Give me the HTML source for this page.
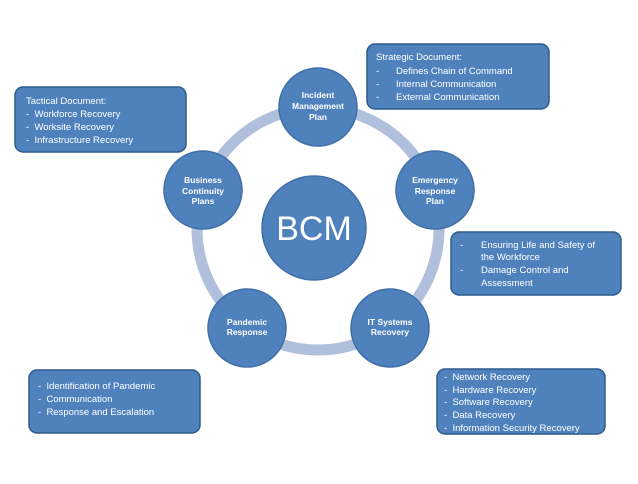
<!DOCTYPE html>
<html><head><meta charset="utf-8"><style>
html,body{margin:0;padding:0;background:#fff;}
svg text{font-family:"Liberation Sans",sans-serif;fill:#fff;}
</style></head><body>
<svg width="638" height="479" viewBox="0 0 638 479" xmlns="http://www.w3.org/2000/svg">
<circle cx="318" cy="229" r="121" fill="none" stroke="#b0c0dc" stroke-width="11"/>
<g fill="#4f81bd" stroke="#3f6fa8" stroke-width="1.5">
<circle cx="314" cy="228" r="52"/>
<circle cx="318" cy="107" r="39"/>
<circle cx="435" cy="190" r="39"/>
<circle cx="203" cy="190" r="39"/>
<circle cx="247" cy="328" r="39"/>
<circle cx="390" cy="328" r="39"/>
</g>
<text x="314" y="240" font-size="34" text-anchor="middle">BCM</text>
<g font-size="8.5" text-anchor="middle" font-weight="bold">
<text x="318" y="98">Incident</text><text x="318" y="109">Management</text><text x="318" y="120">Plan</text>
<text x="435" y="183">Emergency</text><text x="435" y="194">Response</text><text x="435" y="204">Plan</text>
<text x="203" y="183">Business</text><text x="203" y="194">Continuity</text><text x="203" y="204">Plans</text>
<text x="247" y="325">Pandemic</text><text x="247" y="335">Response</text>
<text x="390" y="325">IT Systems</text><text x="390" y="335">Recovery</text>
</g>
<g fill="#4f81bd" stroke="#2d5a8e" stroke-width="1.5">
<rect x="15" y="87" width="171" height="65" rx="8"/>
<rect x="367" y="44" width="182" height="65" rx="8"/>
<rect x="451" y="232" width="170" height="63" rx="8"/>
<rect x="29" y="370" width="171" height="63" rx="8"/>
<rect x="437" y="369" width="168" height="65" rx="8"/>
</g>
<g font-size="9.5">
<text x="26" y="104">Tactical Document:</text>
<text x="26" y="117">-&#160;&#160;Workforce Recovery</text>
<text x="26" y="130">-&#160;&#160;Worksite Recovery</text>
<text x="26" y="143">-&#160;&#160;Infrastructure Recovery</text>
<text x="376" y="60">Strategic Document:</text>
<text x="376" y="74">-</text><text x="396" y="74">Defines Chain of Command</text>
<text x="376" y="87">-</text><text x="396" y="87">Internal Communication</text>
<text x="376" y="100">-</text><text x="396" y="100">External Communication</text>
<text x="460" y="248">-</text><text x="481" y="248">Ensuring Life and Safety of</text>
<text x="481" y="260">the Workforce</text>
<text x="460" y="273">-</text><text x="481" y="273">Damage Control and</text>
<text x="481" y="286">Assessment</text>
<text x="38" y="389">-&#160;&#160;Identification of Pandemic</text>
<text x="38" y="402">-&#160;&#160;Communication</text>
<text x="38" y="415">-&#160;&#160;Response and Escalation</text>
<text x="444" y="380">-&#160;&#160;Network Recovery</text>
<text x="444" y="393">-&#160;&#160;Hardware Recovery</text>
<text x="444" y="405">-&#160;&#160;Software Recovery</text>
<text x="444" y="418">-&#160;&#160;Data Recovery</text>
<text x="444" y="431">-&#160;&#160;Information Security Recovery</text>
</g>
</svg>
</body></html>
